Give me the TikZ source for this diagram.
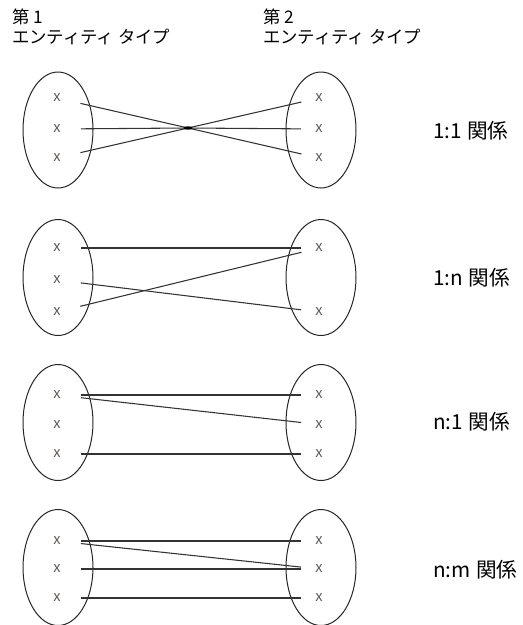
\documentclass[tikz,border=0pt]{standalone}
\usepackage{fontspec}
\setmainfont{Noto Sans CJK JP}
\usetikzlibrary{shapes.geometric}

\definecolor{memberink}{RGB}{100,92,88}

\begin{document}
\begin{tikzpicture}[x=0.75pt,y=-0.75pt,
  entset/.style={draw=black!85, line width=0.75pt, ellipse, minimum width=52.5pt,
    minimum height=87pt, inner sep=0pt},
  member/.style={text=memberink, font=\fontsize{11}{11}\selectfont, inner sep=0pt},
  link/.style={draw=black!80, line width=0.8pt, shorten <=15pt, shorten >=10.5pt},
  heading/.style={anchor=north west, align=left, font=\fontsize{13}{15}\selectfont,
    inner sep=0pt},
  kind/.style={anchor=west, font=\fontsize{15.5}{16}\selectfont, inner sep=0pt},
  hub/.style={fill=black, ellipse, minimum width=7pt, minimum height=2.6pt, inner sep=0pt}]

\useasboundingbox (0,0) rectangle (523,625);

% column headings
\node[heading] (h1) at (12,9) {第 1\\エンティティ タイプ};
\node[heading] (h2) at (263,9) {第 2\\エンティティ タイプ};

% ---------- 1:1 ----------
\node[entset] (E1l) at (58,130) {};
\node[entset] (E1r) at (321,130) {};
\node[member] (L1a) at (57,98) {x};
\node[member] (L1b) at (57,129) {x};
\node[member] (L1c) at (57,158) {x};
\node[member] (R1a) at (319,98) {x};
\node[member] (R1b) at (319,129) {x};
\node[member] (R1c) at (319,158) {x};
\coordinate (cross) at (188,128);
\draw[link] (L1a) -- (cross) -- (R1c);
\draw[link] (L1b) -- (cross) -- (R1b);
\draw[link] (L1c) -- (cross) -- (R1a);
\node[hub] (hub) at (cross) {};
\node[kind] (k1) at (433,131) {1:1\hspace{4pt}関係};

% ---------- 1:n ----------
\node[entset] (E2l) at (58,277.5) {};
\node[entset] (E2r) at (321,277.5) {};
\node[member] (L2a) at (57,248) {x};
\node[member] (L2b) at (57,280) {x};
\node[member] (L2c) at (57,312) {x};
\node[member] (R2a) at (319,248) {x};
\node[member] (R2c) at (319,312) {x};
\draw[link] (L2a) -- (R2a);
\draw[link] (L2b) -- (R2c);
\draw[link] (L2c) -- (R2a);
\node[kind] (k2) at (433,278) {1:n\hspace{4pt}関係};

% ---------- n:1 ----------
\node[entset] (E3l) at (58,422.5) {};
\node[entset] (E3r) at (321,422.5) {};
\node[member] (L3a) at (57,395) {x};
\node[member] (L3b) at (57,424.5) {x};
\node[member] (L3c) at (57,454) {x};
\node[member] (R3a) at (319,395) {x};
\node[member] (R3b) at (319,424.5) {x};
\node[member] (R3c) at (319,454) {x};
\draw[link] (L3a) -- (R3a);
\draw[link] (L3a) -- (R3b);
\draw[link] (L3c) -- (R3c);
\node[kind] (k3) at (433,422) {n:1\hspace{4pt}関係};

% ---------- n:m ----------
\node[entset] (E4l) at (58,567.5) {};
\node[entset] (E4r) at (321,567.5) {};
\node[member] (L4a) at (57,541) {x};
\node[member] (L4b) at (57,569) {x};
\node[member] (L4c) at (57,598) {x};
\node[member] (R4a) at (319,541) {x};
\node[member] (R4b) at (319,569) {x};
\node[member] (R4c) at (319,598) {x};
\draw[link] (L4a) -- (R4a);
\draw[link] (L4a) -- (R4b);
\draw[link] (L4b) -- (R4b);
\draw[link] (L4c) -- (R4c);
\node[kind] (k4) at (433,570) {n:m\hspace{4pt}関係};
\end{tikzpicture}
\end{document}
